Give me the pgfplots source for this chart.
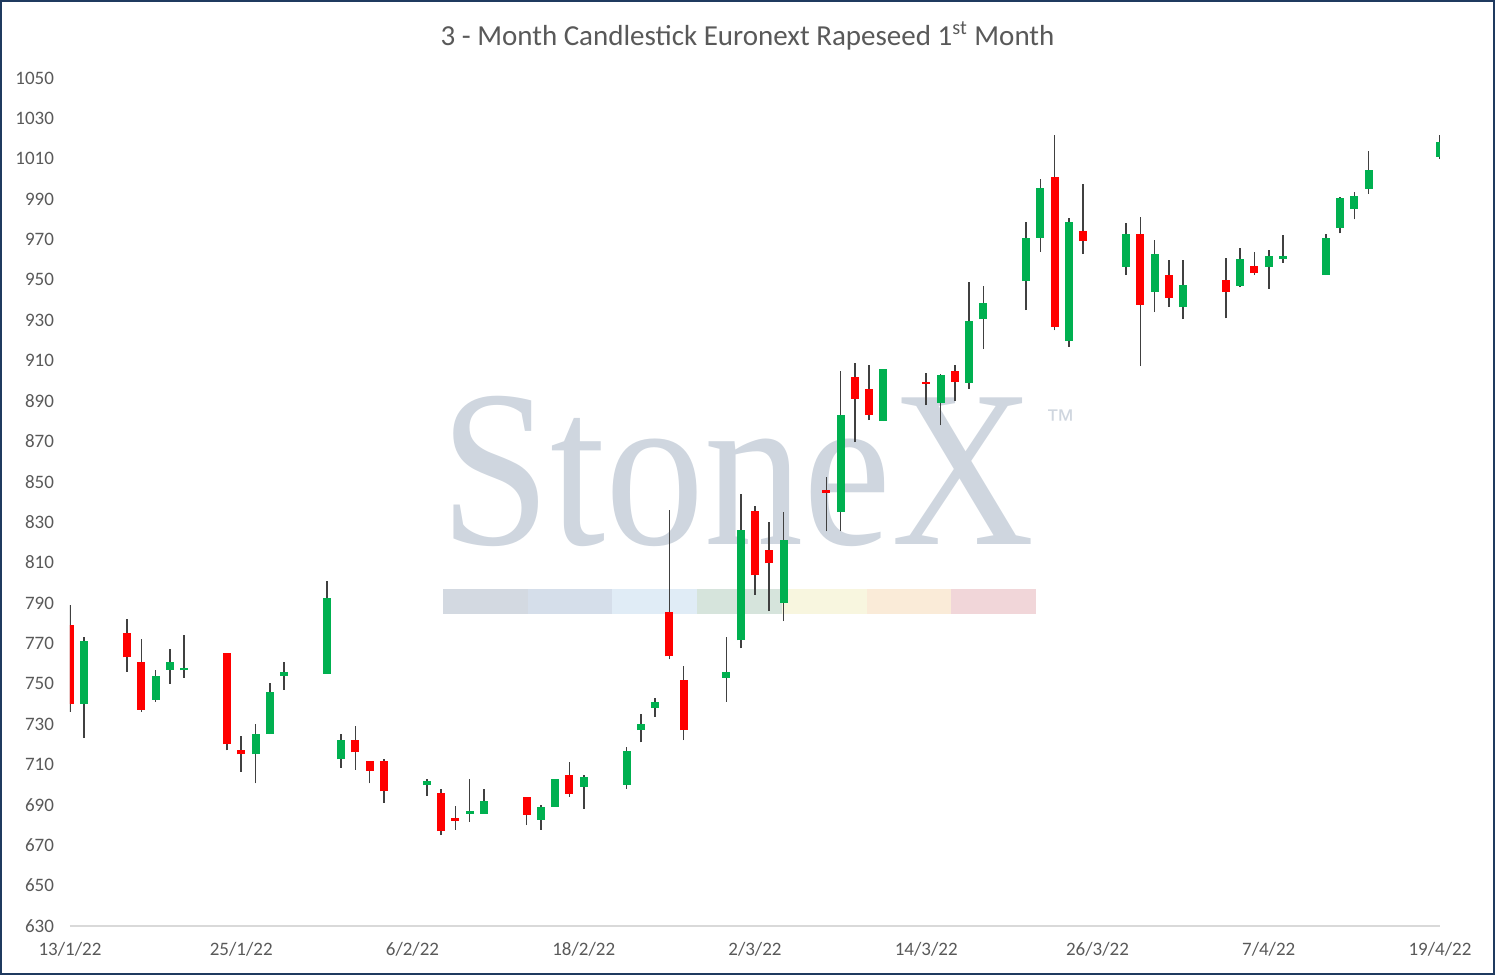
\documentclass[border=0pt]{standalone}
\usepackage{pgfplots}
\pgfplotsset{compat=1.18}
\usepackage{pgfplotstable}
\usepackage{fontspec}
\setmainfont{Carlito}
\newfontfamily\wmfont{Liberation Serif}
\newfontfamily\wmsans{Liberation Sans}
\definecolor{cgreen}{HTML}{00B050}
\definecolor{cred}{HTML}{FF0000}
\definecolor{wick}{HTML}{404040}
\definecolor{txt}{HTML}{595959}
\definecolor{frame}{HTML}{1F3A5F}
\definecolor{wm}{HTML}{CFD6DF}
\definecolor{s1}{HTML}{D3D9E1}
\definecolor{s2}{HTML}{D5DEEA}
\definecolor{s3}{HTML}{E0ECF6}
\definecolor{s4}{HTML}{D6E4DC}
\definecolor{s5}{HTML}{F8F6DF}
\definecolor{s6}{HTML}{FAEBD8}
\definecolor{s7}{HTML}{F1D6D9}

\pgfplotstableread{
d o h l c
1 740 773 723 771
6 742 757 741 754
7 757 767 750 761
8 756.6 774 753 758
13 715 730 700.6 725
14 725 750.5 725 746
15 754 761 747 756
18 755 801 755 792.5
19 712.5 725 708.5 722
25 699.6 703 694.6 702
28 685.6 703 681.7 686.8
29 685.6 698 685.6 692
33 682.7 690 677.7 688.8
34 689 703 689 702.7
36 699 705 688 704
39 700 718.5 698 716.6
40 727 735 721 730
41 738 743 733.6 741
46 753 773 741 756
47 771.5 844 767.5 826
50 790 835 781 821
54 835 904.7 825.5 883
57 880 906 880 905.7
61 889 903.5 878 903
63 899 949 896 929.5
64 930.6 947 915.7 938.4
67 949.4 978.5 935 970.6
68 970.8 1000 964 995.4
70 919.7 980.5 917 978.5
74 956.4 978 952.4 972.6
76 944 970 934 962.7
78 936.5 960 930.6 947.3
82 947 965.6 946.4 960.5
84 956.4 964.6 945.5 961.7
85 960.3 972 958.4 961.7
88 952.4 972.6 952.4 970.6
89 975.6 991 973 990.6
90 985 993.4 980 991.7
91 995 1013.7 992.6 1004.6
96 1011 1022 1010 1018.5
}\upd

\pgfplotstableread{
d o h l c
0 779 789 736 740
4 775 782 756 763
5 761 772 736 737
11 765 765 717 720
12 717 724 706.5 715
20 722 729 707.5 716
21 711.6 711.6 700.6 707
22 711.6 712.6 691 696.7
26 696 698 675 677
27 683.5 689.5 677.7 682.2
32 693.8 693.8 680 685
35 704.7 711.3 694 695.6
42 785.5 836 762 763.5
43 752 759 722 727
48 835.5 838 794 803.6
49 816 830 786 809.6
53 845.7 852.6 825.5 844.5
55 901.7 908.6 869.6 891
56 896 908 880.5 883
60 899.5 904 888 898.5
62 904.7 908 890 899.4
69 1001 1022 925 926.6
71 974 997.4 962.8 969.2
75 972.6 981 907.3 937.6
77 952.3 959.7 936.5 941
81 950 960.7 931 944
83 957 964 952.4 953.4
}\down

\begin{document}
\begin{tikzpicture}
% canvas 1495x975 px, 1px = 0.5pt
\path[use as bounding box] (0,0) rectangle (747.5pt,487.5pt);
% watermark
\node[anchor=base west, inner sep=0pt, text=wm, xscale=0.885, font=\wmfont\fontsize{112}{112}\selectfont] at (220pt,215pt) {StoneX};
\node[anchor=north west, inner sep=0pt, text=wm, font=\wmsans\fontsize{15}{15}\selectfont] at (522.5pt,283pt) {™};
\foreach \i/\c in {0/s1,1/s2,2/s3,3/s4,4/s5,5/s6,6/s7}{
  \fill[\c] ({221.5pt+\i*42.35pt},180.5pt) rectangle ({221.5pt+(\i+1)*42.35pt},193pt);
}
\begin{axis}[
  at={(35pt,24.5pt)}, anchor=south west,
  scale only axis, width=685pt, height=424pt,
  xmin=0, xmax=96, ymin=630, ymax=1050,
  axis x line*=bottom, axis y line*=left,
  x axis line style={draw=black!15, line width=0.75pt},
  y axis line style={draw=none},
  xtick={0,12,...,96},
  xticklabels={13/1/22,25/1/22,6/2/22,18/2/22,2/3/22,14/3/22,26/3/22,7/4/22,19/4/22},
  ytick={630,650,...,1050},
  major tick length=0pt,
  tick label style={font=\fontsize{9.5}{11}\selectfont, text=txt},
  xticklabel style={anchor=north, yshift=-4.5pt},
  yticklabel style={anchor=east, xshift=-4.5pt},
  /pgf/number format/.cd, 1000 sep={}, assume math mode=true,
]
% wicks
\addplot[draw=none, no markers, error bars/.cd, y dir=plus, y explicit, error mark=none,
  error bar style={draw=wick, line width=0.8pt, solid}]
  table[x=d, y=l, y error plus expr={\thisrow{h}-\thisrow{l}}] {\upd};
\addplot[draw=none, no markers, error bars/.cd, y dir=plus, y explicit, error mark=none,
  error bar style={draw=wick, line width=0.8pt, solid}]
  table[x=d, y=l, y error plus expr={\thisrow{h}-\thisrow{l}}] {\down};
% bodies
\addplot[draw=none, no markers, error bars/.cd, y dir=plus, y explicit, error mark=none,
  error bar style={draw=cgreen, line width=4pt, solid, line cap=butt}]
  table[x=d, y=o, y error plus expr={\thisrow{c}-\thisrow{o}}] {\upd};
\addplot[draw=none, no markers, error bars/.cd, y dir=plus, y explicit, error mark=none,
  error bar style={draw=cred, line width=4pt, solid, line cap=butt}]
  table[x=d, y=c, y error plus expr={\thisrow{o}-\thisrow{c}}] {\down};
\end{axis}
\node[text=txt, font=\fontsize{14.5}{17}\selectfont] at (373.75pt,469.5pt) {3 - Month Candlestick Euronext Rapeseed 1\textsuperscript{st} Month};
\draw[frame, line width=1pt] (0.5pt,0.5pt) rectangle (747pt,487pt);
\end{tikzpicture}
\end{document}
